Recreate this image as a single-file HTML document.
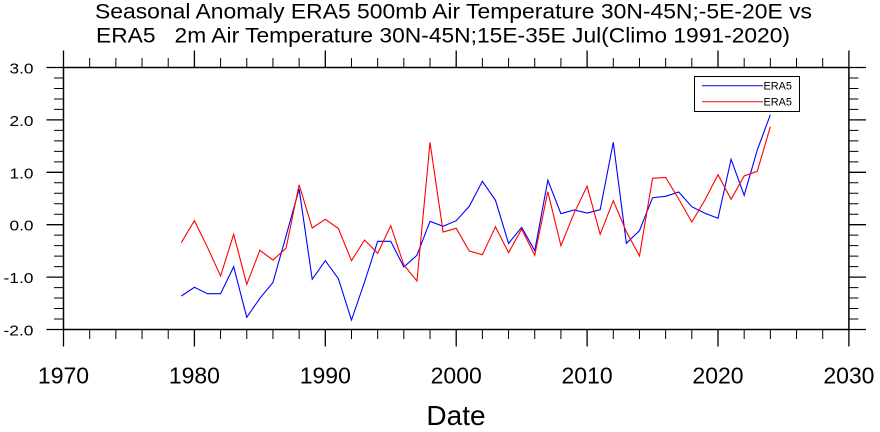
<!DOCTYPE html>
<html>
<head>
<meta charset="utf-8">
<style>
  html, body { margin:0; padding:0; background:#fff; }
  svg { display:block; }
  text { font-family: "Liberation Sans", Arial, sans-serif; fill:#000; }
</style>
</head>
<body>
<svg width="880" height="432" viewBox="0 0 880 432" xmlns="http://www.w3.org/2000/svg">
  <rect x="0" y="0" width="880" height="432" fill="#fff"/>

  <!-- Title -->
  <text x="95" y="18.5" font-size="21" textLength="717" lengthAdjust="spacingAndGlyphs">Seasonal Anomaly ERA5 500mb Air Temperature 30N-45N;-5E-20E vs</text>
  <text x="96" y="42.5" font-size="21" textLength="694" lengthAdjust="spacingAndGlyphs" xml:space="preserve">ERA5   2m Air Temperature 30N-45N;15E-35E Jul(Climo 1991-2020)</text>

  <!-- Minor ticks -->
  <path fill="none" stroke="#000" stroke-width="1" d="
    M54 77.98H63.5M54 88.46H63.5M54 98.94H63.5M54 109.42H63.5
    M54 130.38H63.5M54 140.86H63.5M54 151.34H63.5M54 161.82H63.5
    M54 182.78H63.5M54 193.26H63.5M54 203.74H63.5M54 214.22H63.5
    M54 235.18H63.5M54 245.66H63.5M54 256.14H63.5M54 266.62H63.5
    M54 287.58H63.5M54 298.06H63.5M54 308.54H63.5M54 319.02H63.5
    M848.9 77.98H858.4M848.9 88.46H858.4M848.9 98.94H858.4M848.9 109.42H858.4
    M848.9 130.38H858.4M848.9 140.86H858.4M848.9 151.34H858.4M848.9 161.82H858.4
    M848.9 182.78H858.4M848.9 193.26H858.4M848.9 203.74H858.4M848.9 214.22H858.4
    M848.9 235.18H858.4M848.9 245.66H858.4M848.9 256.14H858.4M848.9 266.62H858.4
    M848.9 287.58H858.4M848.9 298.06H858.4M848.9 308.54H858.4M848.9 319.02H858.4
    M89.68 58V67.5M115.86 58V67.5M142.04 58V67.5M168.22 58V67.5
    M220.58 58V67.5M246.76 58V67.5M272.94 58V67.5M299.12 58V67.5
    M351.48 58V67.5M377.66 58V67.5M403.84 58V67.5M430.02 58V67.5
    M482.38 58V67.5M508.56 58V67.5M534.74 58V67.5M560.92 58V67.5
    M613.28 58V67.5M639.46 58V67.5M665.64 58V67.5M691.82 58V67.5
    M744.18 58V67.5M770.36 58V67.5M796.54 58V67.5M822.72 58V67.5
    M89.68 329.5V339M115.86 329.5V339M142.04 329.5V339M168.22 329.5V339
    M220.58 329.5V339M246.76 329.5V339M272.94 329.5V339M299.12 329.5V339
    M351.48 329.5V339M377.66 329.5V339M403.84 329.5V339M430.02 329.5V339
    M482.38 329.5V339M508.56 329.5V339M534.74 329.5V339M560.92 329.5V339
    M613.28 329.5V339M639.46 329.5V339M665.64 329.5V339M691.82 329.5V339
    M744.18 329.5V339M770.36 329.5V339M796.54 329.5V339M822.72 329.5V339
  "/>

  <!-- Major ticks -->
  <path fill="none" stroke="#000" stroke-width="1.3" d="
    M46.5 67.5H63.5M46.5 119.9H63.5M46.5 172.3H63.5M46.5 224.7H63.5M46.5 277.1H63.5M46.5 329.5H63.5
    M848.9 67.5H866M848.9 119.9H866M848.9 172.3H866M848.9 224.7H866M848.9 277.1H866M848.9 329.5H866
    M63.5 50.5V67.5M194.4 50.5V67.5M325.3 50.5V67.5M456.2 50.5V67.5M587.1 50.5V67.5M718 50.5V67.5M848.9 50.5V67.5
    M63.5 329.5V346.5M194.4 329.5V346.5M325.3 329.5V346.5M456.2 329.5V346.5M587.1 329.5V346.5M718 329.5V346.5M848.9 329.5V346.5
  "/>

  <!-- Frame -->
  <rect x="63.5" y="67.5" width="785.4" height="262" fill="none" stroke="#000" stroke-width="1.5"/>

  <!-- Y labels -->
  <g font-size="15" text-anchor="end">
    <text x="33.5" y="73.5" textLength="24" lengthAdjust="spacingAndGlyphs">3.0</text>
    <text x="33.5" y="125.9" textLength="24" lengthAdjust="spacingAndGlyphs">2.0</text>
    <text x="33.5" y="178.3" textLength="24" lengthAdjust="spacingAndGlyphs">1.0</text>
    <text x="33.5" y="230.7" textLength="24" lengthAdjust="spacingAndGlyphs">0.0</text>
    <text x="33.5" y="283.1" textLength="30" lengthAdjust="spacingAndGlyphs">-1.0</text>
    <text x="33.5" y="335.5" textLength="30" lengthAdjust="spacingAndGlyphs">-2.0</text>
  </g>

  <!-- X labels -->
  <g font-size="23" text-anchor="middle">
    <text x="63.5" y="383.5">1970</text>
    <text x="194.4" y="383.5">1980</text>
    <text x="325.3" y="383.5">1990</text>
    <text x="456.2" y="383.5">2000</text>
    <text x="587.1" y="383.5">2010</text>
    <text x="718" y="383.5">2020</text>
    <text x="848.9" y="383.5">2030</text>
  </g>
  <text x="456" y="425" font-size="28" text-anchor="middle">Date</text>

  <!-- Blue series -->
  <polyline fill="none" stroke="#0000ff" stroke-width="1.1" stroke-linejoin="miter" points="
    181.31,296 194.4,287.3 207.49,293.7 220.58,293.7 233.67,266.7 246.76,317.3 259.85,298.3 272.94,282.5
    286.03,236 299.12,189 312.21,279.3 325.3,260.7 338.39,278.7 351.48,320 364.57,282 377.66,241.3
    390.75,241.3 403.84,267 416.93,255.3 430.02,221.3 443.11,226.3 456.2,220.7 469.29,206.3 482.38,181.3
    495.47,200.3 508.56,243.3 521.65,227.3 534.74,250.7 547.83,180.3 560.92,213.7 574.01,210 587.1,213
    600.19,209.7 613.28,142.3 626.37,243.3 639.46,230.7 652.55,197.7 665.64,196.3 678.73,192 691.82,206.7
    704.91,213.3 718,218.3 731.09,159.3 744.18,195.3 757.27,150 770.36,114.7"/>

  <!-- Red series -->
  <polyline fill="none" stroke="#ff0000" stroke-width="1.1" stroke-linejoin="miter" points="
    181.31,242.7 194.4,220.7 207.49,247.3 220.58,276 233.67,234.3 246.76,284.3 259.85,250.3 272.94,260
    286.03,248.3 299.12,184.7 312.21,228 325.3,219.3 338.39,228.5 351.48,260.7 364.57,240 377.66,253.3
    390.75,225.7 403.84,265 416.93,281 430.02,142.3 443.11,232 456.2,228.3 469.29,251 482.38,254.7
    495.47,226.7 508.56,252.7 521.65,229 534.74,255.3 547.83,191.7 560.92,245.7 574.01,213.3 587.1,186.3
    600.19,234.3 613.28,200.7 626.37,231.7 639.46,256 652.55,178.3 665.64,177.5 678.73,199 691.82,222
    704.91,200 718,174.7 731.09,199.3 744.18,176 757.27,171.3 770.36,126.7"/>

  <!-- Legend -->
  <rect x="694.5" y="76.5" width="105" height="35" fill="#fff" stroke="#000" stroke-width="1"/>
  <line x1="702" y1="85.7" x2="763" y2="85.7" stroke="#0000ff" stroke-width="1"/>
  <line x1="702" y1="101.7" x2="763" y2="101.7" stroke="#ff0000" stroke-width="1"/>
  <text x="763.5" y="89.7" font-size="11" textLength="28.5" lengthAdjust="spacingAndGlyphs">ERA5</text>
  <text x="763.5" y="105.7" font-size="11" textLength="28.5" lengthAdjust="spacingAndGlyphs">ERA5</text>
</svg>
</body>
</html>
